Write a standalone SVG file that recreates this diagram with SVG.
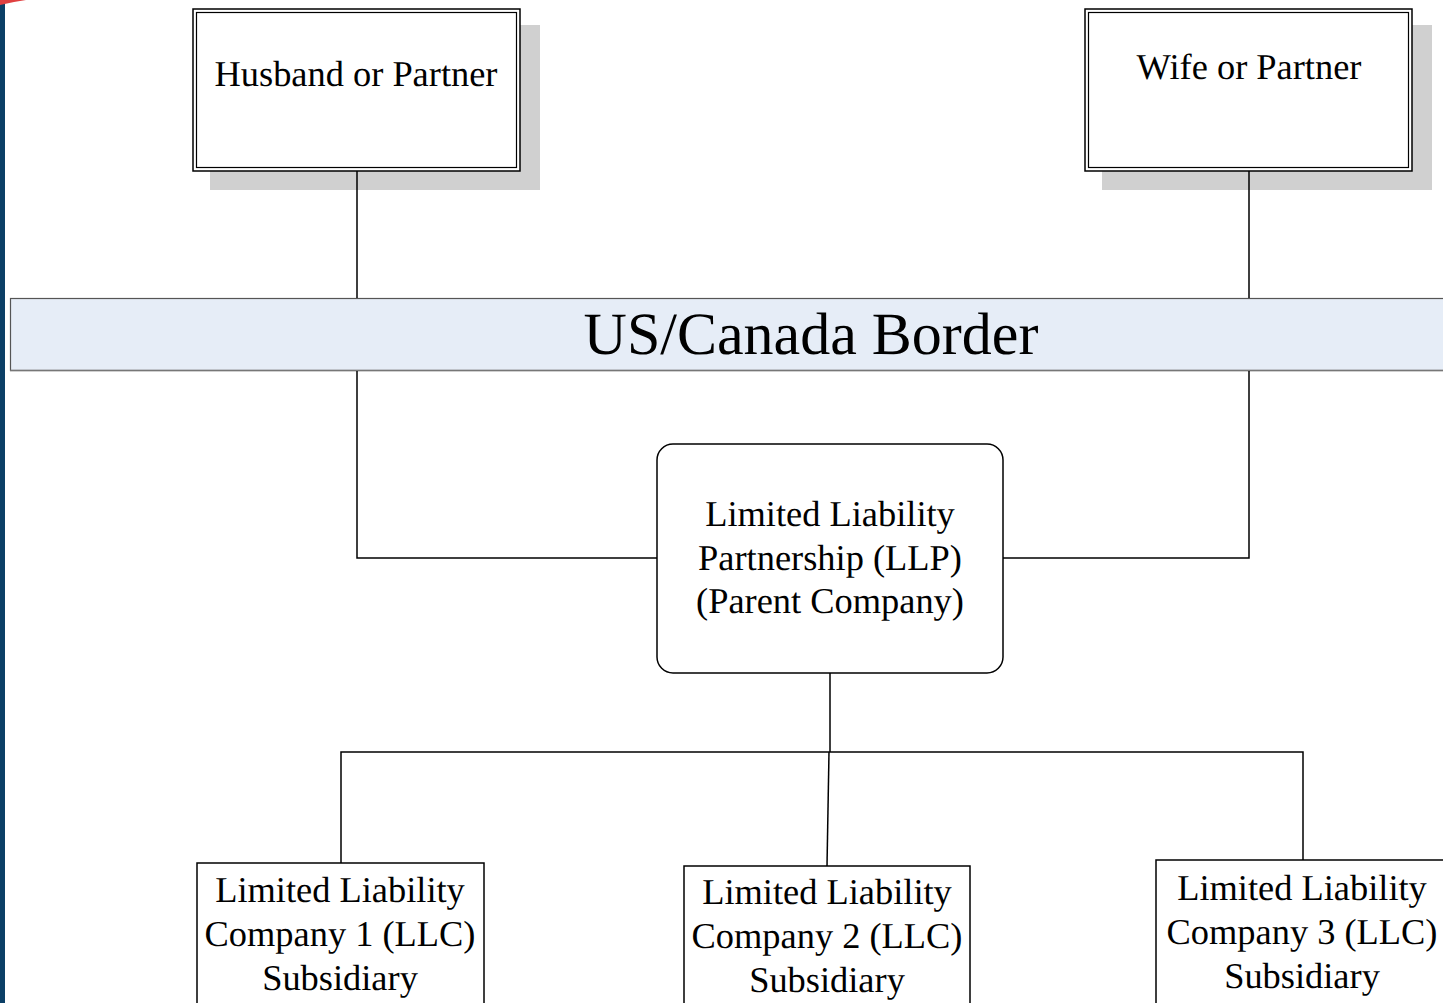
<svg xmlns="http://www.w3.org/2000/svg" width="1443" height="1003" viewBox="0 0 1443 1003">
<style>
text{font-family:'Liberation Serif','Times New Roman',serif;fill:#000;text-anchor:middle;text-rendering:geometricPrecision}
.t{font-size:36.4px}
.box{fill:#fff;stroke:#000;stroke-width:1.5}
.shadow{fill:#d0d0d0}
.conn{fill:none;stroke:#000;stroke-width:1.5}
</style>
<rect x="0" y="0" width="1443" height="1003" fill="#fff"/>
<rect x="0" y="0" width="5" height="1003" fill="#0b3f66"/>
<path d="M0 0 L26 0 Q12 2 0 5 Z" fill="#e04040"/>
<g id="husband">
<rect class="shadow" x="210" y="25" width="330" height="165"/>
<rect x="193" y="9" width="327" height="162" fill="#fff" stroke="#000" stroke-width="1.5"/>
<rect x="196.5" y="12.5" width="320" height="155" fill="none" stroke="#000" stroke-width="1.2"/>
<text class="t" x="356" y="86">Husband or Partner</text>
</g>
<g id="wife">
<rect class="shadow" x="1102" y="25" width="330" height="165"/>
<rect x="1085" y="9" width="327" height="162" fill="#fff" stroke="#000" stroke-width="1.5"/>
<rect x="1088.5" y="12.5" width="320" height="155" fill="none" stroke="#000" stroke-width="1.2"/>
<text class="t" x="1249" y="79">Wife or Partner</text>
</g>
<g id="border">
<rect x="10.5" y="298.5" width="1440" height="72" fill="#e6edf7" stroke="#555" stroke-width="1.2"/>
<line x1="10" y1="370.5" x2="1443" y2="370.5" stroke="#777" stroke-width="1.5"/>
<text x="811" y="354" font-size="60">US/Canada Border</text>
</g>
<g id="llp">
<rect class="box" x="657" y="444" width="346" height="229" rx="16"/>
<text class="t" x="830" y="526">Limited Liability</text>
<text class="t" x="830" y="570">Partnership (LLP)</text>
<text class="t" x="830" y="613">(Parent Company)</text>
</g>
<g id="llc1">
<rect class="box" x="197" y="863" width="287" height="150"/>
<text class="t" x="340" y="902">Limited Liability</text>
<text class="t" x="340" y="946">Company 1 (LLC)</text>
<text class="t" x="340" y="990">Subsidiary</text>
</g>
<g id="llc2">
<rect class="box" x="684" y="866" width="286" height="150"/>
<text class="t" x="827" y="904">Limited Liability</text>
<text class="t" x="827" y="948">Company 2 (LLC)</text>
<text class="t" x="827" y="992">Subsidiary</text>
</g>
<g id="llc3">
<rect class="box" x="1156" y="860" width="300" height="150"/>
<text class="t" x="1302" y="900">Limited Liability</text>
<text class="t" x="1302" y="944">Company 3 (LLC)</text>
<text class="t" x="1302" y="988">Subsidiary</text>
</g>
<g id="connectors">
<path class="conn" d="M357 171 V298 M357 371 V558 H657"/>
<path class="conn" d="M1249 171 V298 M1249 371 V558 H1003"/>
<path class="conn" d="M830 673 V752"/>
<path class="conn" d="M341 863 V752 H1303 V860"/>
<path class="conn" d="M829 752 L827 866"/>
</g>
</svg>
